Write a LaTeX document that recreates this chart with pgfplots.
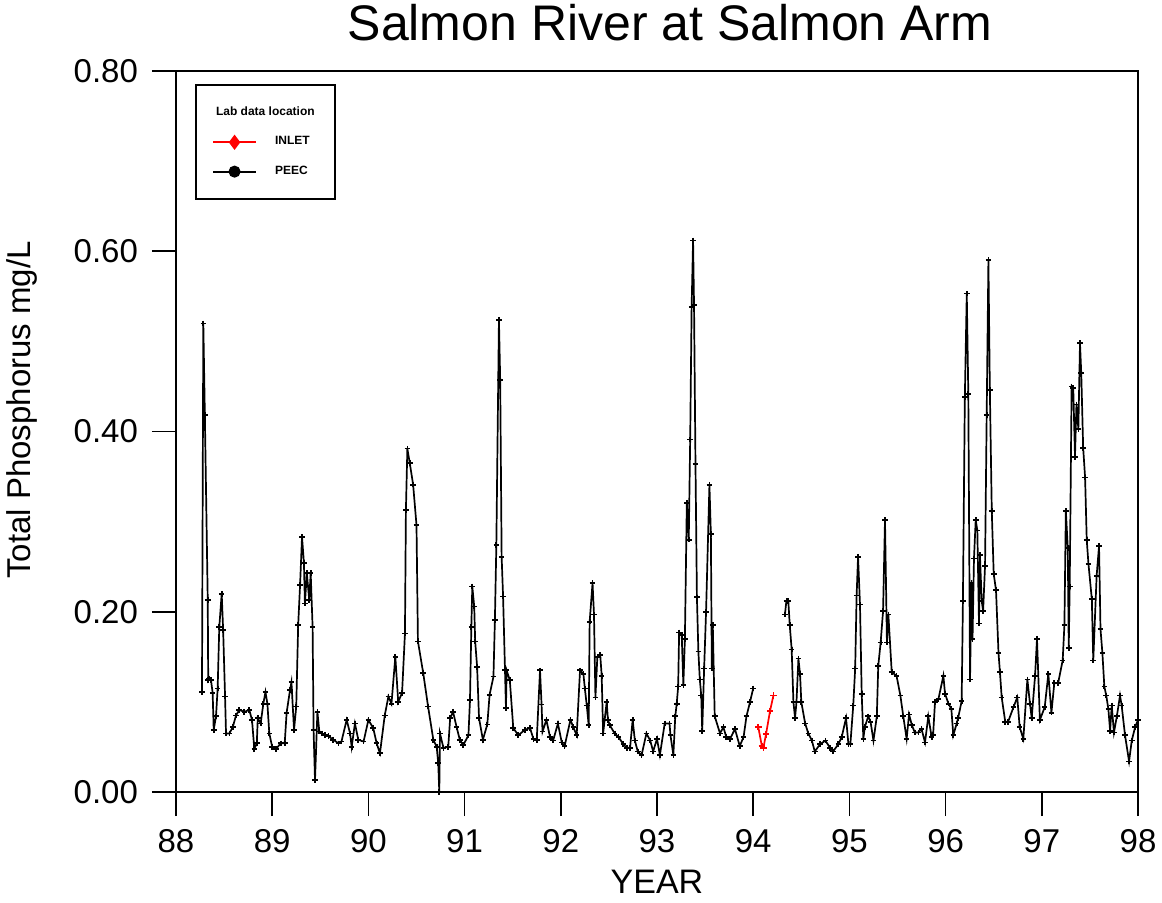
\documentclass[border=0pt]{standalone}
\usepackage{pgfplots}
\pgfplotsset{compat=1.18}
\usepackage{fontspec}
\setmainfont{Liberation Sans}
\begin{document}
\begin{tikzpicture}
\useasboundingbox (-88pt,-55pt) rectangle (493pt,396pt);
\begin{axis}[
  at={(0pt,0pt)}, anchor=south west,
  scale only axis, width=481pt, height=360.5pt,
  xmin=88, xmax=98, ymin=0, ymax=0.8,
  xtick={88,89,...,98}, ytick={0,0.2,0.4,0.6,0.8},
  tick pos=left, tick align=outside, major tick length=12pt,
  axis line style={line width=1pt}, tick style={line width=0.8pt, black},
  /pgf/number format/assume math mode=true,
  yticklabel style={xshift=-3.5pt, /pgf/number format/.cd, fixed, fixed zerofill, precision=2},
  xticklabel style={yshift=-3pt, /pgf/number format/.cd, fixed, precision=0},
  ticklabel style={font=\fontsize{16.5}{16.5}\selectfont},
  title={Salmon River at Salmon Arm},
  title style={at={(axis description cs:0.5135,1)}, anchor=base, yshift=9.5pt, font=\fontsize{25}{25}\selectfont},
  xlabel={YEAR},
  xlabel style={at={(axis description cs:0.5,0)}, anchor=base, inner sep=0pt, yshift=-50.5pt, font=\fontsize{17}{17}\selectfont},
  ylabel={Total Phosphorus mg/L},
  ylabel style={at={(axis description cs:-0.16,0.53)}, anchor=center, font=\fontsize{16.5}{16.5}\selectfont},
  clip=false,
  unbounded coords=jump,
  legend image code/.code={\draw[mark repeat=2,mark phase=2,#1] plot coordinates {(0pt,0pt)(10.75pt,0pt)(21.5pt,0pt)};},
  legend cell align=left,
  legend style={at={(axis description cs:0.0198,0.982)}, anchor=north west, draw=black, line width=1pt, fill=white,
    font=\fontsize{6}{7}\selectfont\bfseries, inner xsep=8pt, inner ysep=9pt, row sep=5pt},
]
\addlegendimage{empty legend}
\addlegendentry{\hspace*{-22.5pt}Lab data location}
\addlegendimage{red, line width=1pt, mark=diamond*, mark size=3pt}
\addlegendentry{\hspace*{7pt}INLET}
\addlegendimage{black, line width=1pt, mark=*, mark size=2.5pt}
\addlegendentry{\hspace*{7pt}PEEC}

\addplot[black, line width=0.85pt, mark=+, mark size=1.4pt, forget plot] coordinates {
(88.27,0.111) (88.284,0.520) (88.30,0.418) (88.33,0.213) (88.335,0.124) (88.346,0.126) (88.364,0.124) (88.381,0.110)
(88.392,0.069) (88.416,0.084) (88.433,0.115) (88.45,0.183) (88.475,0.220) (88.49,0.180) (88.51,0.106) (88.52,0.065)
(88.555,0.065) (88.59,0.072) (88.624,0.085) (88.658,0.091) (88.71,0.089) (88.762,0.091) (88.79,0.080) (88.814,0.048)
(88.84,0.054) (88.85,0.082) (88.88,0.076) (88.908,0.098) (88.93,0.111) (88.95,0.098) (88.97,0.065) (89.00,0.050)
(89.04,0.048) (89.09,0.054) (89.13,0.054) (89.15,0.088) (89.185,0.113) (89.20,0.122) (89.227,0.069) (89.25,0.095)
(89.27,0.185) (89.29,0.23) (89.31,0.283) (89.33,0.254) (89.34,0.209) (89.36,0.243) (89.385,0.213) (89.40,0.243)
(89.42,0.183) (89.43,0.069) (89.445,0.013) (89.47,0.089) (89.49,0.067) (89.515,0.065) (89.55,0.063) (89.585,0.062)
(89.635,0.058) (89.69,0.054) (89.72,0.056) (89.774,0.080) (89.81,0.065) (89.826,0.050) (89.86,0.076) (89.895,0.058)
(89.95,0.056) (90.0,0.080) (90.05,0.071) (90.086,0.054) (90.12,0.043) (90.17,0.085) (90.208,0.106) (90.24,0.098)
(90.28,0.150) (90.31,0.100) (90.35,0.110) (90.38,0.176) (90.39,0.313) (90.405,0.381) (90.43,0.365) (90.465,0.341)
(90.50,0.296) (90.515,0.167) (90.57,0.132) (90.62,0.095) (90.675,0.058) (90.71,0.050) (90.726,0.032) (90.737,0.0)
(90.744,0.065) (90.78,0.049) (90.83,0.050) (90.85,0.082) (90.88,0.089) (90.917,0.072) (90.95,0.058) (90.986,0.052)
(91.04,0.063) (91.056,0.102) (91.07,0.183) (91.08,0.228) (91.10,0.206) (91.11,0.167) (91.13,0.139) (91.15,0.082)
(91.19,0.058) (91.236,0.075) (91.26,0.108) (91.30,0.128) (91.315,0.191) (91.33,0.274) (91.357,0.524) (91.37,0.457)
(91.385,0.261) (91.40,0.217) (91.42,0.135) (91.43,0.093) (91.437,0.135) (91.47,0.124) (91.506,0.071) (91.558,0.063)
(91.627,0.069) (91.68,0.071) (91.715,0.059) (91.75,0.058) (91.784,0.135) (91.80,0.097) (91.81,0.067) (91.85,0.080)
(91.888,0.061) (91.92,0.057) (91.97,0.076) (92.01,0.055) (92.04,0.051) (92.10,0.080) (92.13,0.072) (92.165,0.063)
(92.20,0.135) (92.235,0.131) (92.25,0.115) (92.27,0.096) (92.29,0.074) (92.30,0.189) (92.33,0.232) (92.345,0.197)
(92.36,0.105) (92.38,0.150) (92.41,0.152) (92.425,0.129) (92.44,0.065) (92.477,0.100) (92.49,0.080) (92.51,0.074)
(92.56,0.065) (92.60,0.061) (92.65,0.053) (92.685,0.049) (92.72,0.049) (92.747,0.080) (92.77,0.057) (92.80,0.045)
(92.84,0.041) (92.89,0.065) (92.93,0.057) (92.96,0.045) (93.00,0.059) (93.03,0.041) (93.08,0.076) (93.13,0.076)
(93.14,0.063) (93.17,0.041) (93.19,0.084) (93.205,0.098) (93.22,0.117) (93.23,0.177) (93.257,0.174) (93.274,0.119)
(93.29,0.170) (93.31,0.321) (93.33,0.280) (93.345,0.391) (93.36,0.538) (93.375,0.612) (93.385,0.54) (93.40,0.364)
(93.415,0.216) (93.43,0.156) (93.445,0.125) (93.46,0.107) (93.47,0.068) (93.49,0.137) (93.51,0.20) (93.545,0.341)
(93.56,0.286) (93.57,0.137) (93.58,0.185) (93.60,0.084) (93.655,0.065) (93.69,0.072) (93.72,0.061) (93.76,0.059)
(93.81,0.070) (93.86,0.051) (93.90,0.061) (93.93,0.084) (93.967,0.100) (94.00,0.115)
(94.1,nan)
(94.33,0.197) (94.345,0.212) (94.365,0.212) (94.38,0.185) (94.40,0.158) (94.418,0.100) (94.435,0.082) (94.45,0.100)
(94.47,0.148) (94.487,0.131) (94.50,0.100) (94.54,0.076) (94.573,0.065) (94.61,0.057) (94.64,0.045) (94.695,0.053)
(94.75,0.057) (94.80,0.049) (94.83,0.045) (94.885,0.053) (94.92,0.061) (94.965,0.082) (94.99,0.053) (95.01,0.053)
(95.04,0.096) (95.06,0.137) (95.075,0.218) (95.09,0.261) (95.11,0.208) (95.128,0.109) (95.145,0.059) (95.16,0.072)
(95.196,0.084) (95.22,0.078) (95.25,0.057) (95.285,0.084) (95.30,0.140) (95.325,0.166) (95.35,0.201) (95.37,0.302)
(95.39,0.166) (95.405,0.197) (95.44,0.133) (95.49,0.129) (95.53,0.107) (95.56,0.084) (95.595,0.059) (95.62,0.086)
(95.65,0.074) (95.68,0.066) (95.717,0.066) (95.75,0.070) (95.786,0.055) (95.82,0.084) (95.855,0.061) (95.87,0.063)
(95.89,0.100) (95.925,0.103) (95.977,0.129) (95.994,0.109) (96.03,0.098) (96.06,0.092) (96.08,0.063) (96.115,0.076)
(96.13,0.082) (96.167,0.101) (96.18,0.212) (96.20,0.438) (96.22,0.553) (96.236,0.442) (96.254,0.125) (96.27,0.232)
(96.28,0.170) (96.295,0.259) (96.313,0.302) (96.33,0.290) (96.347,0.187) (96.357,0.263) (96.375,0.212) (96.39,0.201)
(96.41,0.251) (96.427,0.418) (96.445,0.590) (96.46,0.446) (96.48,0.312) (96.50,0.242) (96.524,0.224) (96.55,0.154)
(96.565,0.133) (96.583,0.105) (96.62,0.078) (96.65,0.078) (96.705,0.094) (96.745,0.105) (96.77,0.072) (96.808,0.059)
(96.85,0.125) (96.877,0.098) (96.895,0.082) (96.93,0.129) (96.95,0.170) (96.98,0.080) (97.03,0.094) (97.068,0.131)
(97.10,0.088) (97.13,0.121) (97.17,0.121) (97.217,0.146) (97.235,0.185) (97.25,0.312) (97.27,0.271) (97.28,0.160)
(97.29,0.228) (97.31,0.450) (97.327,0.448) (97.345,0.372) (97.36,0.430) (97.38,0.403) (97.397,0.498) (97.41,0.465)
(97.43,0.382) (97.45,0.349) (97.467,0.280) (97.485,0.253) (97.52,0.214) (97.535,0.146) (97.57,0.240) (97.595,0.273)
(97.61,0.181) (97.63,0.154) (97.65,0.117) (97.67,0.107) (97.692,0.092) (97.71,0.068) (97.727,0.096) (97.75,0.066)
(97.78,0.084) (97.813,0.107) (97.83,0.096) (97.865,0.063) (97.907,0.034) (97.935,0.057) (97.97,0.072) (98.0,0.080)
};
\addplot[red, line width=0.85pt, mark=+, mark size=1.6pt, forget plot] coordinates {
(94.053,0.072) (94.09,0.051) (94.106,0.049) (94.133,0.064) (94.175,0.090) (94.21,0.107)
};
\end{axis}
\end{tikzpicture}
\end{document}
